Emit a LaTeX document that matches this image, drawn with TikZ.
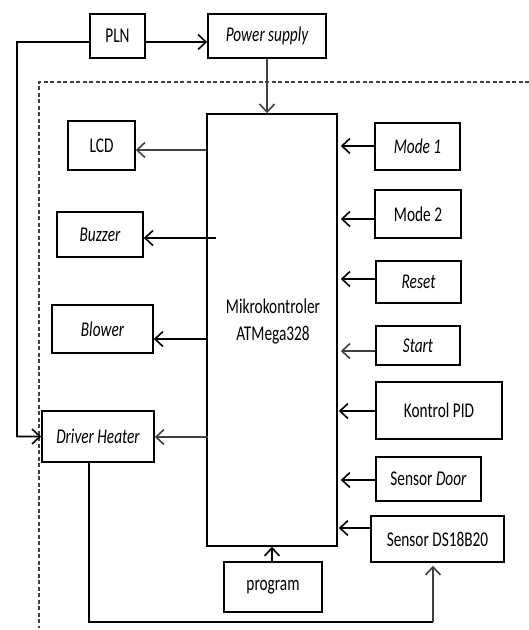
\documentclass[tikz,border=0pt]{standalone}
\usepackage{fontspec}
\setmainfont{Carlito}[FakeStretch=0.73]
\usetikzlibrary{arrows.meta}
\begin{document}
\begin{tikzpicture}[x=1bp,y=-1bp,
  txt/.style={font=\fontsize{21bp}{27bp}\selectfont, text=black},
  box/.style={txt, draw=black, line width=1.6bp, inner sep=0pt},
  arr/.style={line width=1.6bp, draw=black, -{Straight Barb[length=8bp,width=15bp,line width=1.6bp]}},
  garr/.style={arr, draw=gray!50!black},
  wire/.style={line width=1.6bp, draw=black},
  dashline/.style={line width=1.3bp, draw=gray!50!black, dash pattern=on 4bp off 2.5bp},
  ]
\useasboundingbox (0,0) rectangle (529,630);
% top
\node[box,minimum width=55bp,minimum height=44bp] (pln) at (117.5,36) {PLN};
\node[box,minimum width=118bp,minimum height=44bp] (ps) at (267,36) {\itshape Power supply};
% controller
\node[box,minimum width=130bp,minimum height=432bp] (mikro) at (272,330) {};
\node[txt, align=center, inner sep=0pt] (mktext) at (273,322) {Mikrokontroler\\ATMega328};
% outputs
\node[box,minimum width=67bp,minimum height=49bp] (lcd) at (101.5,145.5) {LCD};
\node[box,minimum width=86bp,minimum height=45bp] (buzzer) at (100,234.5) {\itshape Buzzer};
\node[box,minimum width=101bp,minimum height=48bp] (blower) at (102.5,329) {\itshape Blower};
\node[box,minimum width=112bp,minimum height=51bp] (heater) at (98,436.5) {\itshape Driver Heater};
% inputs
\node[box,minimum width=85bp,minimum height=47bp] (mode1) at (417.5,146.5) {\itshape Mode 1};
\node[box,minimum width=86bp,minimum height=48bp] (mode2) at (418,214) {Mode 2};
\node[box,minimum width=85bp,minimum height=42bp] (reset) at (418.5,282) {\itshape Reset};
\node[box,minimum width=84bp,minimum height=39bp] (start) at (418,345.5) {\itshape Start};
\node[box,minimum width=126bp,minimum height=57bp] (pid) at (439,410.5) {Kontrol PID};
\node[box,minimum width=105bp,minimum height=44bp] (door) at (428.5,479) {Sensor \textit{Door}};
\node[box,minimum width=133bp,minimum height=46bp] (ds) at (437.5,539) {Sensor DS18B20};
\node[box,minimum width=98bp,minimum height=50bp] (program) at (273,587) {program};
% dashed boundary
\coordinate (d1) at (529,82);
\coordinate (d2) at (39,82);
\coordinate (d3) at (39,628);
\draw[dashline] (d1) -- (d2) -- (d3);
% power connections
\coordinate (lc) at (17,42);
\draw[arr] ([yshift=-6bp]pln.west) -- (lc) |- (heater.west);
\draw[arr] ([yshift=-6bp]pln.east) -- ([yshift=-6bp]ps.west);
\draw[garr] (ps.south) -- (ps.south |- mikro.north);
% outputs
\draw[garr] (mikro.west |- 0,150) -- (lcd.east |- 0,150);
\draw[arr] ([xshift=10bp]mikro.west |- 0,238) -- (buzzer.east |- 0,238);
\draw[arr] (mikro.west |- 0,339) -- (blower.east |- 0,339);
\draw[garr] ([xshift=2bp]mikro.west |- 0,437) -- (heater.east |- 0,437);
% inputs
\draw[arr] (mode1.west |- 0,146) -- ([xshift=3bp]mikro.east |- 0,146);
\draw[arr] (mode2.west |- 0,219) -- ([xshift=3bp]mikro.east |- 0,219);
\draw[arr] (reset.west |- 0,279) -- ([xshift=3bp]mikro.east |- 0,279);
\draw[garr] (start.west |- 0,351) -- ([xshift=3bp]mikro.east |- 0,351);
\draw[arr] (pid.west |- 0,411) -- ([xshift=1bp]mikro.east |- 0,411);
\draw[arr] (door.west |- 0,480) -- ([xshift=3bp]mikro.east |- 0,480);
\draw[arr] (ds.west |- 0,528) -- ([xshift=1bp]mikro.east |- 0,528);
\draw[arr] (mikro.south |- program.north) -- (mikro.south);
% feedback heater -> sensor
\coordinate (b1) at (89,622);
\coordinate (b2) at (433,622);
\draw[wire] (heater.south -| b1) -- (b1) -- (b2);
\draw[garr] (b2) -- ([yshift=-3bp]ds.south -| b2);
\end{tikzpicture}
\end{document}
